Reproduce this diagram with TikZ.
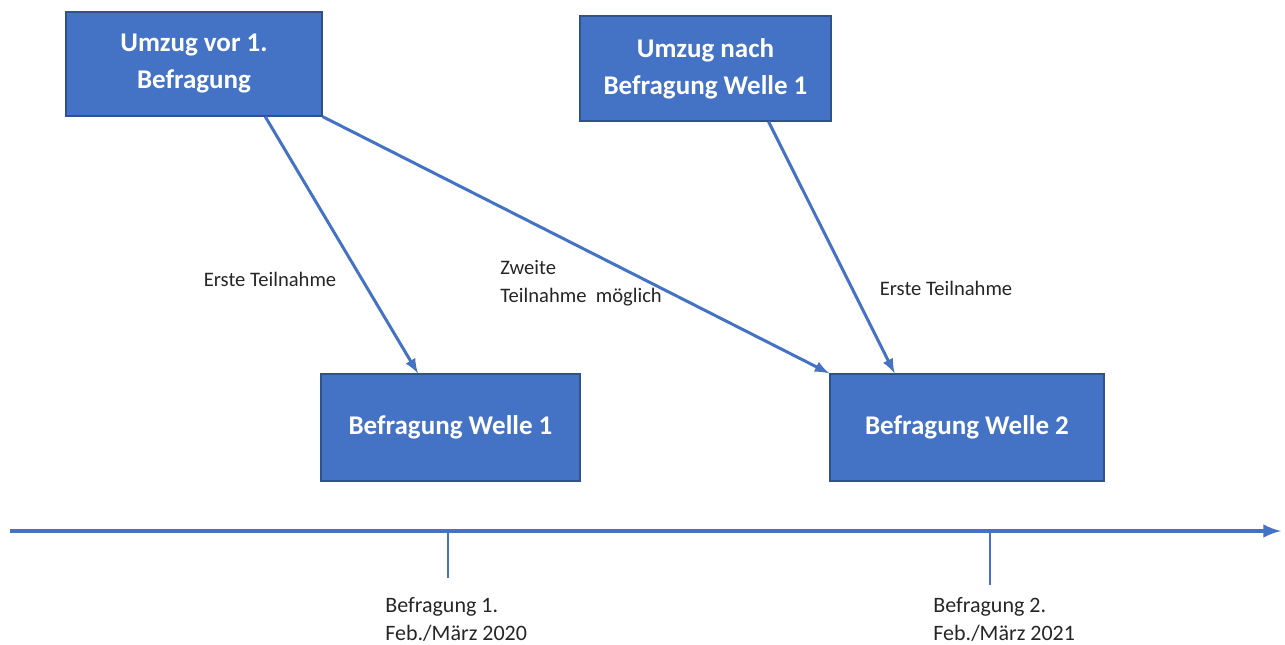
\documentclass[tikz,border=0pt]{standalone}
\usepackage{fontspec}
\setmainfont{Carlito}
\usetikzlibrary{calc}
\definecolor{boxblue}{HTML}{4472C4}
\definecolor{boxline}{HTML}{2F528F}
\definecolor{txtgray}{HTML}{262626}
\begin{document}
\begin{tikzpicture}[x=0.5pt,y=-0.5pt,
  box/.style={draw=boxline,line width=0.6pt,fill=boxblue,text=white,align=center,
    font=\bfseries\fontsize{13.5}{18.5}\selectfont,inner sep=0pt},
  lbl/.style={text=txtgray,font=\fontsize{10.3}{14}\selectfont,align=left,inner sep=0pt},
  tlbl/.style={text=txtgray,font=\fontsize{11}{14}\selectfont,align=left,inner sep=0pt,anchor=north west},
  conn/.style={draw=boxblue,line width=1.5pt,->,>=latex}]
\useasboundingbox (0,0) rectangle (1285,644);
\node[box,minimum width=128pt,minimum height=52pt] (vor)at(194,64){Umzug vor 1.\\Befragung};
\node[box,minimum width=125.5pt,minimum height=52.5pt] (nach)at(705.5,68.5){Umzug nach\\Befragung Welle 1};
\node[box,minimum width=129.5pt,minimum height=53.5pt] (w1)at(450.5,427.5){Befragung Welle 1};
\node[box,minimum width=137pt,minimum height=53.5pt] (w2)at(967,427.5){Befragung Welle 2};
\draw[conn] ($(vor.south west)!0.777!(vor.south east)$) -- ($(w1.north west)!0.375!(w1.north east)$);
\draw[conn] (vor.south east) -- (w2.north west);
\draw[conn] ($(nach.south west)!0.75!(nach.south east)$) -- ($(w2.north west)!0.237!(w2.north east)$);
\node[lbl] at(270,279) {Erste Teilnahme};
\node[lbl,anchor=west] at(500,283) {Zweite\\Teilnahme\ \ möglich};
\node[lbl] at(946,288) {Erste Teilnahme};
% Zeitachse
\coordinate (t0) at(10,531);
\coordinate (t1) at(1281,531);
\draw[draw=boxblue,line width=2pt,->,>=latex] (t0) -- (t1);
\coordinate (m1) at(448,578);
\coordinate (m2) at(990,585);
\draw[boxblue,line width=1pt] (m1) -- (m1 |- t0);
\draw[boxblue,line width=1pt] (m2) -- (m2 |- t0);
\node[tlbl] at(385,597) {Befragung 1.\\Feb./März 2020};
\node[tlbl] at(933,597) {Befragung 2.\\Feb./März 2021};
\end{tikzpicture}
\end{document}
